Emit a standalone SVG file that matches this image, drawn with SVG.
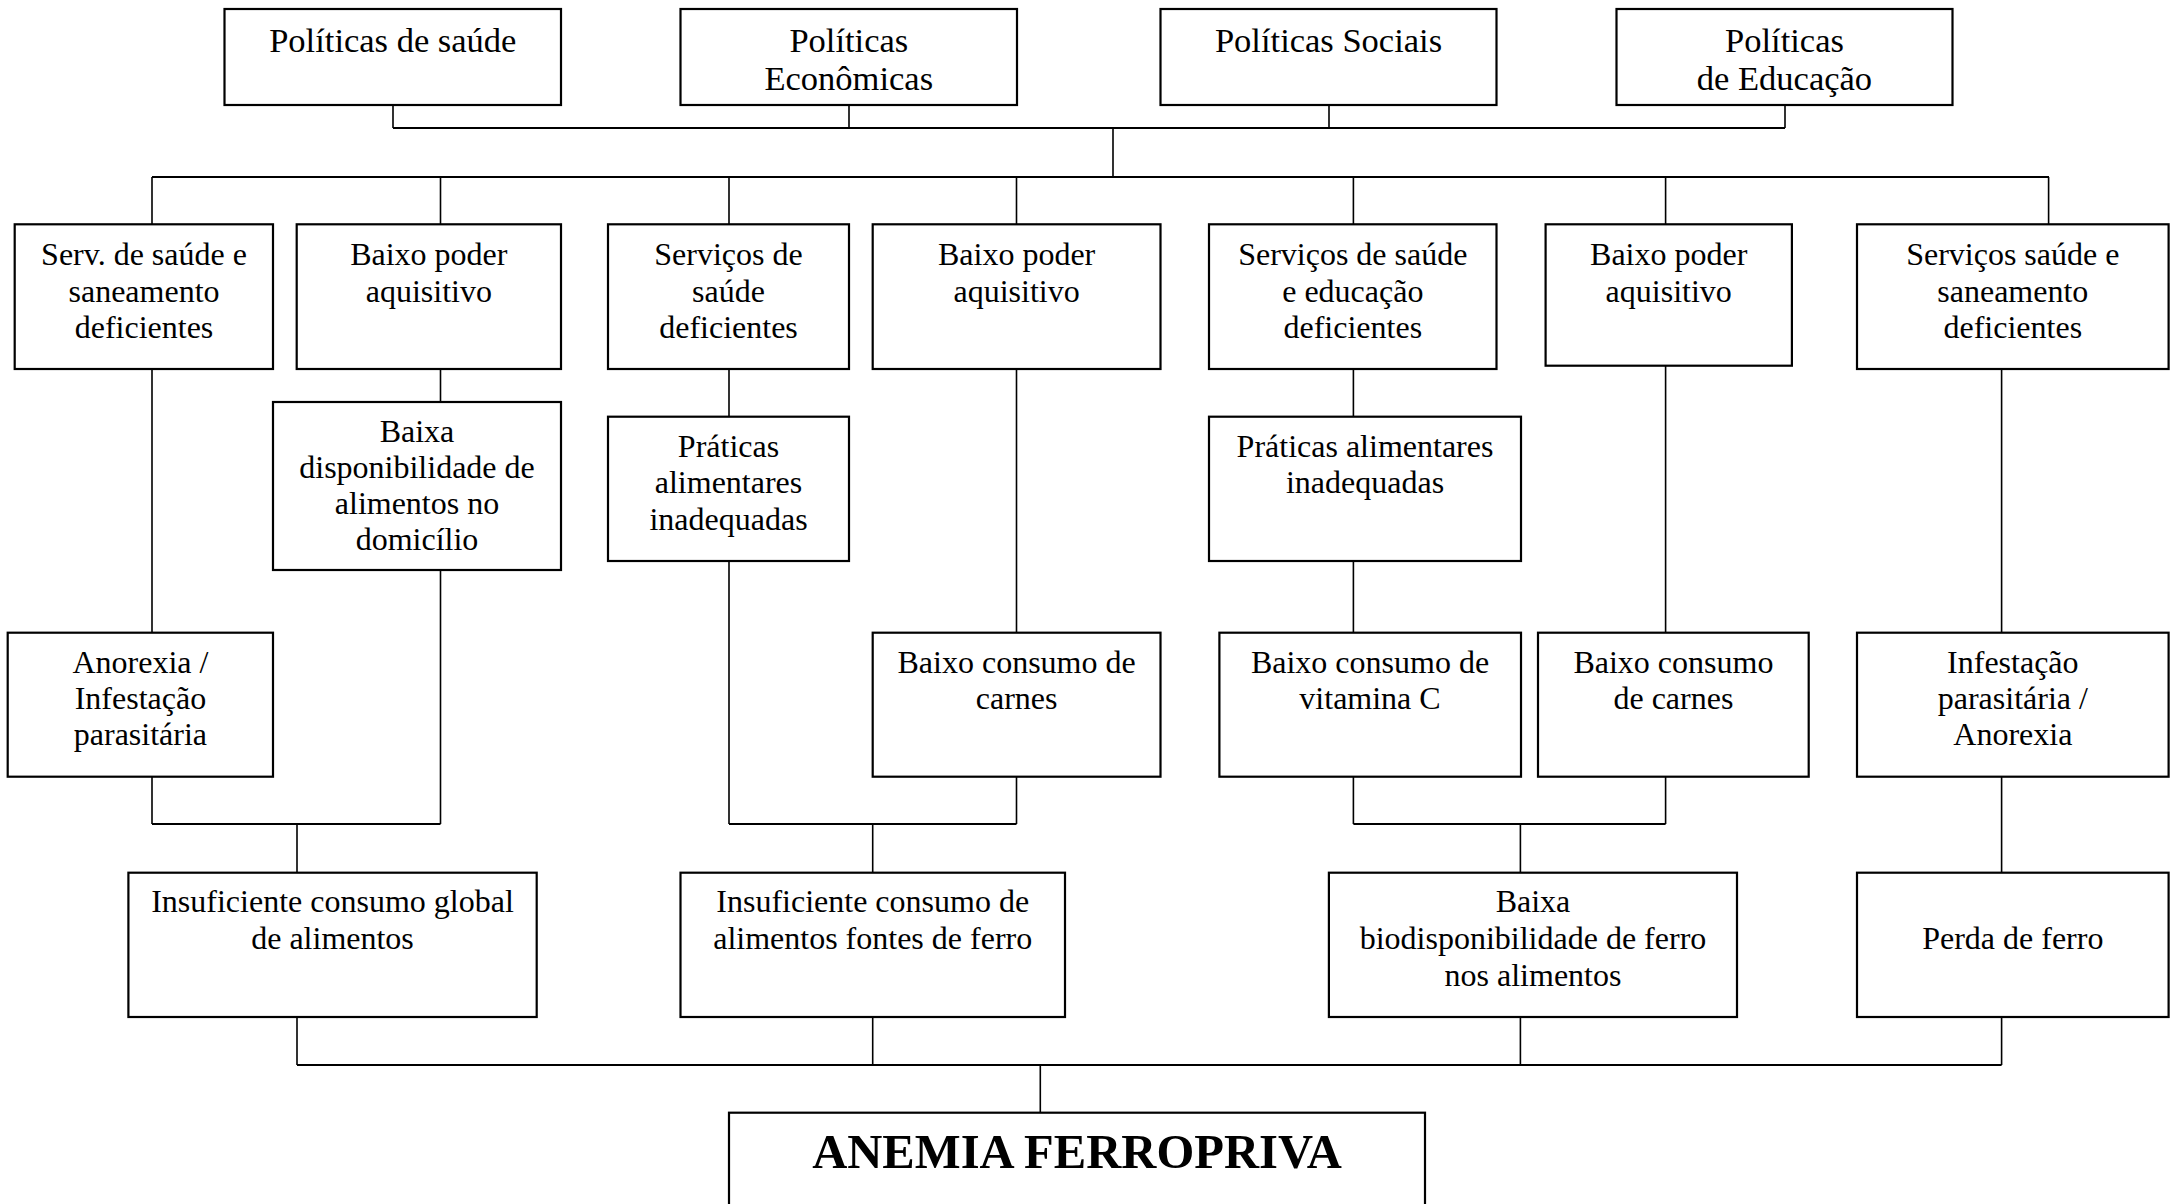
<svg xmlns="http://www.w3.org/2000/svg" width="2170" height="1204" viewBox="0 0 2170 1204">
<style>
.b{fill:#fff;stroke:#000;stroke-width:2.2}
.t{font-family:"Liberation Serif","Times New Roman",serif;font-size:32px;fill:#000;text-anchor:middle}
.tp{font-size:34.5px}
.big{font-family:"Liberation Serif","Times New Roman",serif;font-size:48.6px;font-weight:bold;fill:#000;text-anchor:middle}
.c{fill:none;stroke:#000;stroke-width:1.6}
.h{fill:none;stroke:#000;stroke-width:2.2}
</style>
<rect width="2170" height="1204" fill="#fff"/>
<g id="connectors">
<path class="c" d="M393 105V128M849 105V128M1329 105V128M1785 105V128M1113 128V177"/>
<path class="h" d="M393 128H1785M152 177H2049"/>
<path class="c" d="M152 177V224M440.5 177V224M729 177V224M1016.5 177V224M1353.4 177V224M1665.6 177V224M2048.6 177V224"/>
<path class="c" d="M152 369V633M152 777V824M440.5 369V402M440.5 570V824M297 824V873"/>
<path class="c" d="M729 369V417M729 561V824M1016.5 369V633M1016.5 777V824M872.7 824V873"/>
<path class="c" d="M1353.4 369V417M1353.4 561V633M1353.4 777V824M1665.6 366V633M1665.6 777V824M1520.4 824V873"/>
<path class="c" d="M2001.6 369V633M2001.6 777V873"/>
<path class="h" d="M152 824H440.5M729 824H1016.5M1353.4 824H1665.6"/>
<path class="c" d="M297 1017V1065M872.7 1017V1065M1520.4 1017V1065M2001.6 1017V1065M1040.3 1065V1113"/>
<path class="h" d="M297 1065H2001.6"/>
</g>
<g id="n-pol-saude"><rect class="b" x="224.5" y="9" width="336.5" height="96"/><text class="t tp" x="392.8" y="52">Políticas de saúde</text></g>
<g id="n-pol-econ"><rect class="b" x="680.5" y="9" width="336.5" height="96"/><text class="t tp" x="848.8" y="52">Políticas</text><text class="t tp" x="848.8" y="90">Econômicas</text></g>
<g id="n-pol-soc"><rect class="b" x="1160.5" y="9" width="336" height="96"/><text class="t tp" x="1328.5" y="52">Políticas Sociais</text></g>
<g id="n-pol-edu"><rect class="b" x="1616.5" y="9" width="336" height="96"/><text class="t tp" x="1784.5" y="52">Políticas</text><text class="t tp" x="1784.5" y="90">de Educação</text></g>

<g id="n-a1"><rect class="b" x="14.7" y="224.3" width="258.3" height="144.7"/><text class="t" x="144" y="265">Serv. de saúde e</text><text class="t" x="144" y="301.5">saneamento</text><text class="t" x="144" y="338">deficientes</text></g>
<g id="n-a2"><rect class="b" x="296.7" y="224.3" width="264.3" height="144.7"/><text class="t" x="428.8" y="265">Baixo poder</text><text class="t" x="428.8" y="301.5">aquisitivo</text></g>
<g id="n-a3"><rect class="b" x="608" y="224.3" width="241" height="144.7"/><text class="t" x="728.5" y="265">Serviços de</text><text class="t" x="728.5" y="301.5">saúde</text><text class="t" x="728.5" y="338">deficientes</text></g>
<g id="n-a4"><rect class="b" x="872.7" y="224.3" width="287.8" height="144.7"/><text class="t" x="1016.6" y="265">Baixo poder</text><text class="t" x="1016.6" y="301.5">aquisitivo</text></g>
<g id="n-a5"><rect class="b" x="1209" y="224.3" width="287.5" height="144.7"/><text class="t" x="1352.8" y="265">Serviços de saúde</text><text class="t" x="1352.8" y="301.5">e educação</text><text class="t" x="1352.8" y="338">deficientes</text></g>
<g id="n-a6"><rect class="b" x="1545.6" y="224.3" width="246.3" height="141.4"/><text class="t" x="1668.7" y="265">Baixo poder</text><text class="t" x="1668.7" y="301.5">aquisitivo</text></g>
<g id="n-a7"><rect class="b" x="1857" y="224.3" width="311.6" height="144.7"/><text class="t" x="2012.8" y="265">Serviços saúde e</text><text class="t" x="2012.8" y="301.5">saneamento</text><text class="t" x="2012.8" y="338">deficientes</text></g>

<g id="n-b1"><rect class="b" x="273" y="402" width="288" height="168"/><text class="t" x="417" y="441.7">Baixa</text><text class="t" x="417" y="477.7">disponibilidade de</text><text class="t" x="417" y="513.7">alimentos no</text><text class="t" x="417" y="550">domicílio</text></g>
<g id="n-b2"><rect class="b" x="608" y="416.7" width="241" height="144.3"/><text class="t" x="728.5" y="456.5">Práticas</text><text class="t" x="728.5" y="493">alimentares</text><text class="t" x="728.5" y="529.5">inadequadas</text></g>
<g id="n-b3"><rect class="b" x="1209" y="416.7" width="312" height="144.3"/><text class="t" x="1365" y="456.5">Práticas alimentares</text><text class="t" x="1365" y="493">inadequadas</text></g>

<g id="n-c1"><rect class="b" x="7.7" y="632.7" width="265.3" height="144"/><text class="t" x="140.4" y="672.7">Anorexia /</text><text class="t" x="140.4" y="709">Infestação</text><text class="t" x="140.4" y="745.3">parasitária</text></g>
<g id="n-c2"><rect class="b" x="872.7" y="632.7" width="287.8" height="144"/><text class="t" x="1016.6" y="672.7">Baixo consumo de</text><text class="t" x="1016.6" y="709">carnes</text></g>
<g id="n-c3"><rect class="b" x="1219.4" y="632.7" width="301.6" height="144"/><text class="t" x="1370" y="672.7">Baixo consumo de</text><text class="t" x="1370" y="709">vitamina C</text></g>
<g id="n-c4"><rect class="b" x="1538" y="632.7" width="270.7" height="144"/><text class="t" x="1673.4" y="672.7">Baixo consumo</text><text class="t" x="1673.4" y="709">de carnes</text></g>
<g id="n-c5"><rect class="b" x="1857" y="632.7" width="311.6" height="144"/><text class="t" x="2012.8" y="672.7">Infestação</text><text class="t" x="2012.8" y="709">parasitária /</text><text class="t" x="2012.8" y="745.3">Anorexia</text></g>

<g id="n-d1"><rect class="b" x="128.4" y="872.7" width="408.3" height="144.3"/><text class="t" x="332.5" y="911.7">Insuficiente consumo global</text><text class="t" x="332.5" y="949">de alimentos</text></g>
<g id="n-d2"><rect class="b" x="680.5" y="872.7" width="384.5" height="144.3"/><text class="t" x="872.7" y="911.7">Insuficiente consumo de</text><text class="t" x="872.7" y="949">alimentos fontes de ferro</text></g>
<g id="n-d3"><rect class="b" x="1328.9" y="872.7" width="408.1" height="144.3"/><text class="t" x="1533" y="911.7">Baixa</text><text class="t" x="1533" y="949">biodisponibilidade de ferro</text><text class="t" x="1533" y="985.5">nos alimentos</text></g>
<g id="n-d4"><rect class="b" x="1857" y="872.7" width="311.6" height="144.3"/><text class="t" x="2012.8" y="949">Perda de ferro</text></g>

<g id="n-anemia"><rect class="b" x="729" y="1112.7" width="696" height="110"/><text class="big" x="1077" y="1168">ANEMIA FERROPRIVA</text></g>
</svg>
